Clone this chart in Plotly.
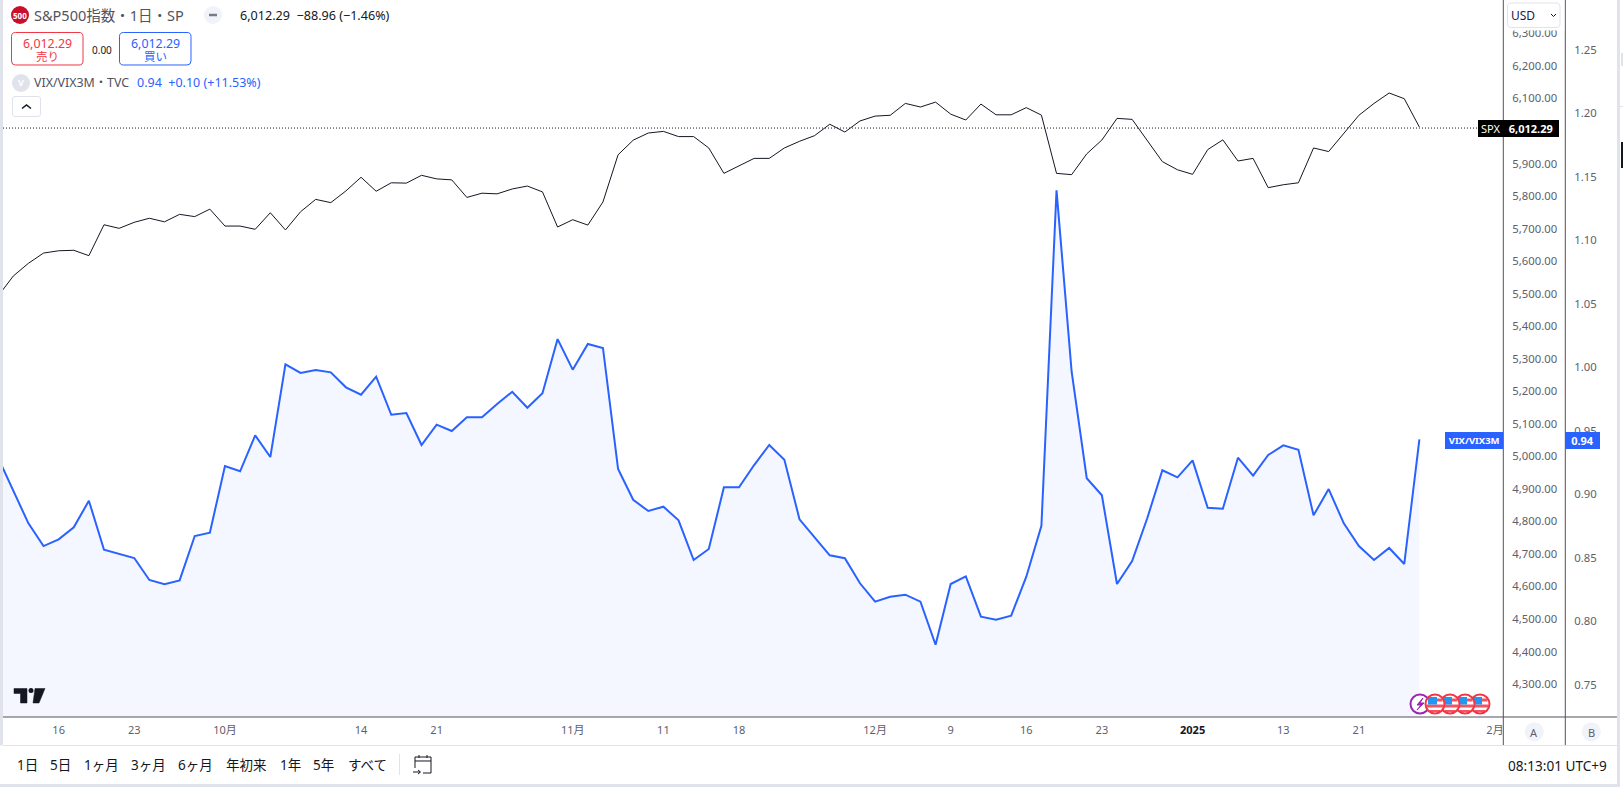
import plotly.graph_objects as go

W, H = 1623, 787

spx = [5493, 5554.5, 5593.5, 5625, 5632, 5633.5, 5617, 5712, 5701, 5719.5, 5732, 5721, 5744, 5737, 5760,
       5708, 5708, 5698, 5749, 5696, 5752, 5790, 5780, 5816, 5858, 5815, 5841, 5840, 5864, 5853, 5850,
       5796, 5809, 5807, 5822, 5831, 5813, 5705, 5727.5, 5711, 5782, 5927, 5972, 5994, 5999, 5983, 5983,
       5948, 5870, 5893, 5916, 5916, 5948, 5968.5, 5986, 6021, 5997, 6031, 6046, 6048.5, 6085, 6074, 6089,
       6052, 6034, 6083, 6050, 6050, 6072, 6049, 5870, 5866, 5930, 5972.5, 6039, 6036, 5970, 5906, 5881,
       5867, 5943, 5973, 5908, 5916, 5826, 5835, 5841, 5948, 5937, 5994, 6048.5, 6085, 6117, 6099.5, 6012.29]

vix = [.9287, .9025, .8773, .8594, .8647, .8742, .8951, .8565, .8531, .85, .8327, .8293, .8324, .8673, .8699,
       .9224, .9183, .9466, .9295, 1.0025, .9957, .998, .9962, .9844, .9786, .9928, .9628, .9642, .939, .955, .95,
       .9608, .9608, .9713, .9809, .9683, .9797, 1.0224, .9983, 1.0185, 1.0154, .9201, .8959, .887, .8904, .8797, .8484,
       .8571, .9057, .9057, .9232, .939, .9274, .8805, .8663, .8521, .8498, .8301, .8156, .8195, .8211, .8156, .7817,
       .8295, .8356, .8038, .8014, .8046, .8353, .8754, 1.1395, .9967, .9128, .8994, .8295, .8476, .8813, .9191, .9135,
       .9269, .8896, .8888, .929, .9148, .9311, .9387, .9353, .8836, .9043, .8773, .8594, .8484, .8579, .8453, .9435]

bar_index = list(range(len(spx)))
x_tick_index = [4, 9, 15, 24, 29, 38, 44, 49, 58, 63, 68, 73, 79, 85, 90, 99]
x_tick_text = ["16", "23", "10月", "14", "21", "11月", "11", "18", "12月", "9", "16", "23",
               "<b><span style='color:#131722'>2025</span></b>", "13", "21", "2月"]
spx_ticks = list(range(4300, 6400, 100))
vix_ticks = [0.75, 0.80, 0.85, 0.90, 0.95, 1.00, 1.05, 1.10, 1.15, 1.20, 1.25]
range_buttons = ["1日", "5日", "1ヶ月", "3ヶ月", "6ヶ月", "年初来", "1年", "5年", "すべて"]

FONT = "Noto Sans, Noto Sans CJK JP, sans-serif"
GREY = "#5d606b"
DARK = "#131722"
BLUE = "#2962ff"
RED = "#f23645"
LINE = "#50535a"
PALE = "#e0e3eb"

PLOT_L, PLOT_R, PLOT_B = 3, 1503.3, 717
AXIS2_X = 1565.3


def fx(x):
    return x / W


def fy(y):
    return 1 - y / H


def P(x, y):
    return f"{fx(x):.6f},{fy(y):.6f}"


shapes, annos = [], []


def rect(x0, y0, x1, y1, fill, line=None, lw=1):
    shapes.append(dict(type="rect", xref="paper", yref="paper", x0=fx(x0), x1=fx(x1), y0=fy(y0), y1=fy(y1),
                       fillcolor=fill, line=dict(color=line or fill, width=lw if line else 0), layer="above"))


def rrect(x0, y0, x1, y1, r, fill, line):
    d = (f"M{P(x0 + r, y0)} L{P(x1 - r, y0)} Q{P(x1, y0)} {P(x1, y0 + r)} L{P(x1, y1 - r)} Q{P(x1, y1)} {P(x1 - r, y1)} "
         f"L{P(x0 + r, y1)} Q{P(x0, y1)} {P(x0, y1 - r)} L{P(x0, y0 + r)} Q{P(x0, y0)} {P(x0 + r, y0)} Z")
    shapes.append(dict(type="path", xref="paper", yref="paper", path=d, fillcolor=fill,
                       line=dict(color=line, width=1), layer="above"))


def circle(cx, cy, r, fill, line=None, lw=1):
    shapes.append(dict(type="circle", xref="paper", yref="paper", x0=fx(cx - r), x1=fx(cx + r), y0=fy(cy + r),
                       y1=fy(cy - r), fillcolor=fill, line=dict(color=line or fill, width=lw if line else 0),
                       layer="above"))


def seg(points, color, lw=1, fill=None, close=False):
    d = "M" + " L".join(P(*p) for p in points) + (" Z" if close else "")
    s = dict(type="path", xref="paper", yref="paper", path=d, line=dict(color=color, width=lw), layer="above")
    if fill:
        s["fillcolor"] = fill
    shapes.append(s)


def text(x, y, t, size=12, color=DARK, anchor="left", family=FONT):
    annos.append(dict(xref="paper", yref="paper", x=fx(x), y=fy(y), text=t, showarrow=False, xanchor=anchor,
                      yanchor="middle", font=dict(size=size, color=color, family=family), borderpad=0, borderwidth=0))


# axis frame
seg([(PLOT_R, 0), (PLOT_R, 745)], LINE)
seg([(AXIS2_X, 0), (AXIS2_X, 745)], LINE)
seg([(PLOT_L, PLOT_B), (1617, PLOT_B)], LINE)

# page strips and bottom bar
rect(0, 0, 3, H, PALE)
rect(1617, 0, 1620, H, PALE)
rect(0, 745.5, 1617, 784, "#ffffff")
rect(3, 745, 1617, 746, PALE)
rect(0, 784, 1620, H, PALE)
rect(1621, 53, W, 66, PALE)
rect(1621, 142, W, 168, DARK)
rect(1620, 106, W, 107, PALE)

# currency selector hides the top of the price scale
rect(1504, 0, AXIS2_X - 1, 30.5, "#ffffff")
rrect(1507.5, 3, 1560, 27.5, 4, "#ffffff", PALE)
text(1511, 15, "USD", 12, "#1a1a4a")
seg([(1551, 14), (1553.5, 16.5), (1556, 14)], DARK, 1)

# header
circle(20, 15, 9, "#c8102e")
text(20, 15.5, "<b>500</b>", 8, "#ffffff", "center")
text(34, 15, "S&amp;P500指数・1日・SP", 14.5, "#50535e")
circle(213, 15, 9, "#f0f3fa")
seg([(209, 15), (217, 15)], "#787b86", 2.5)
text(240, 16, "6,012.29  −88.96 (−1.46%)", 12.6, DARK)
rrect(11.5, 32.5, 83, 65, 4, "#ffffff", RED)
text(47.5, 43, "6,012.29", 12.4, RED, "center")
text(47.5, 56.5, "売り", 11.5, RED, "center")
text(101.5, 49.5, "0.00", 10, DARK, "center")
rrect(119.5, 32.5, 191, 65, 4, "#ffffff", BLUE)
text(155.5, 43, "6,012.29", 12.4, BLUE, "center")
text(155.5, 56.5, "買い", 11.5, BLUE, "center")
circle(21, 83, 9, PALE)
text(21, 83, "<b>V</b>", 9, "#ffffff", "center")
text(34, 83, "VIX/VIX3M・TVC", 12.4, "#50535e")
text(137, 83, "0.94  +0.10 (+11.53%)", 12.5, BLUE)
rrect(12.5, 96.5, 40.5, 116.5, 2.5, "#ffffff", PALE)
seg([(22, 108.5), (26.5, 105), (31, 108.5)], DARK, 1.5)

# watermark logo
seg([(14, 688.5), (27, 688.5), (27, 703), (20.5, 703), (20.5, 693.5), (14, 693.5)], "#131722", 0.5, "#131722", True)
circle(31, 690.5, 2.5, "#131722")
seg([(35, 688.5), (45, 688.5), (39, 703), (33, 703)], "#131722", 0.5, "#131722", True)


def flag(cx):
    circle(cx, 704, 9.5, "#ffffff")
    rect(cx + 2, 698.5, cx + 7.5, 701.5, "#f7525f")
    rect(cx - 8.5, 704.5, cx + 8.5, 707.5, "#f7525f")
    rect(cx - 5.5, 710, cx + 5.5, 712, "#f7525f")
    rect(cx - 7, 697, cx + 2, 704.5, "#2196f3")
    circle(cx, 704, 9.5, "rgba(0,0,0,0)", RED, 2)


# event markers, rightmost drawn first so the left ones sit on top
for cx in [1480, 1465, 1450]:
    flag(cx)
circle(1420, 704, 9.5, "rgba(255,255,255,0.9)", "#9c27b0", 2)
seg([(1423, 698), (1417, 705), (1421, 705), (1417, 710), (1424, 703), (1420, 703)], "#9c27b0", 1, "#9c27b0", True)
flag(1435)

# scale buttons
circle(1534.3, 731.7, 9.5, "#f0f3fa")
text(1534.3, 732, "A", 11, GREY, "center")
circle(1591.3, 731.7, 9.5, "#f0f3fa")
text(1591.3, 732, "B", 11, GREY, "center")

# bottom toolbar
for label, cx in zip(range_buttons, [27, 60.7, 101.7, 148, 195.7, 246.7, 290.7, 323.3, 367.7]):
    text(cx, 765, label, 13.5, DARK, "center")
seg([(399.5, 754), (399.5, 775)], PALE)
seg([(415, 768), (415, 757), (431, 757), (431, 773), (423, 773)], DARK, 1)
seg([(415, 761), (431, 761)], DARK, 1)
seg([(413, 772), (420, 772)], DARK, 1)
seg([(418, 770), (420.5, 772), (418, 774)], DARK, 1)
seg([(419, 755), (419, 758)], DARK, 1)
seg([(427, 755), (427, 758)], DARK, 1)
text(1607, 765, "08:13:01 UTC+9", 13.6, DARK, "right")


def tag(x, y_value, yref, t, width, bg, size=11):
    annos.append(dict(xref="paper", yref=yref, x=fx(x), y=y_value, yshift=-1, text=t, showarrow=False, xanchor="left",
                      yanchor="middle", width=width, height=17, bgcolor=bg, borderpad=0, borderwidth=0,
                      align="center", font=dict(size=size, color="#ffffff", family=FONT)))


last_spx, last_vix = spx[-1], vix[-1]
tag(1478, last_spx, "y", "SPX", 25.3, "#000000")
tag(PLOT_R, last_spx, "y", "<b>6,012.29</b>", 55.5, "#000000")
tag(1445, last_vix, "y2", "<b>VIX/VIX3M</b>", 58.3, BLUE, 9.5)
tag(AXIS2_X, last_vix, "y2", "<b>0.94</b>", 35, BLUE)

shapes.insert(0, dict(type="line", xref="paper", yref="y", x0=fx(PLOT_L), x1=fx(PLOT_R), y0=last_spx - 3, y1=last_spx - 3,
                      line=dict(color="#131722", width=1, dash="1px,2px"), layer="between"))

fig = go.Figure()
fig.add_trace(go.Scatter(x=bar_index, y=vix, yaxis="y2", mode="lines", line=dict(color=BLUE, width=2),
                         fill="tozeroy", fillcolor="rgba(41,98,255,0.05)", hoverinfo="skip", showlegend=False))
fig.add_trace(go.Scatter(x=bar_index, y=spx, yaxis="y", mode="lines", line=dict(color="#131722", width=1),
                         hoverinfo="skip", showlegend=False))

fig.update_layout(
    width=W, height=H, margin=dict(l=0, r=0, t=0, b=0), paper_bgcolor="#ffffff", plot_bgcolor="#ffffff",
    font=dict(family=FONT), showlegend=False, shapes=shapes, annotations=annos,
    xaxis=dict(domain=[fx(PLOT_L), fx(PLOT_R)], range=[0.319, 99.55], tickmode="array", tickvals=x_tick_index,
               ticktext=x_tick_text, showgrid=False, zeroline=False, showline=False, ticks="", ticklabelstandoff=5,
               tickfont=dict(size=11, color=GREY), anchor="y", fixedrange=True),
    yaxis=dict(domain=[fy(PLOT_B), 1], range=[4198.8, 6402.9], side="right", tickmode="array", tickvals=spx_ticks,
               tickformat=",.2f", showgrid=False, zeroline=False, showline=False, ticks="", ticklabelstandoff=8,
               tickfont=dict(size=11.3, color=GREY), anchor="x", fixedrange=True),
    yaxis2=dict(domain=[fy(PLOT_B), 1], range=[0.7248, 1.2894], side="right", overlaying="y", anchor="free",
                position=fx(AXIS2_X), tickmode="array", tickvals=vix_ticks, tickformat=".2f", showgrid=False,
                zeroline=False, showline=False, ticks="", ticklabelstandoff=8,
                tickfont=dict(size=11.3, color=GREY), fixedrange=True),
)

fig.write_html("out.html", config=dict(displayModeBar=False),
               post_script="document.body.style.margin='0';document.body.style.overflow='hidden';")
